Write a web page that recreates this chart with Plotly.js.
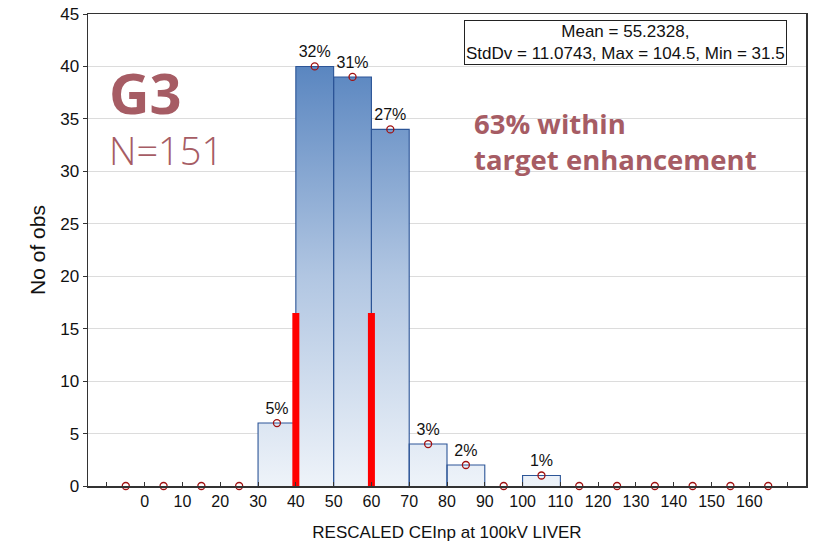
<!DOCTYPE html>
<html>
<head>
<meta charset="utf-8">
<script src="https://cdn.plot.ly/plotly-3.0.1.min.js"></script>
<style>html,body{margin:0;padding:0;background:#fff;} #chart{width:820px;height:542px;}</style>
</head>
<body>
<div id="chart"></div>
<script>
// Bin midpoints (bin width 10) and observed counts
const binMid = [-5, 5, 15, 25, 35, 45, 55, 65, 75, 85, 95, 105, 115, 125, 135, 145, 155, 165];
const counts = [0, 0, 0, 0, 6, 40, 39, 34, 4, 2, 0, 1, 0, 0, 0, 0, 0, 0];
const pctLabels = ['', '', '', '', '5%', '32%', '31%', '27%', '3%', '2%', '', '1%', '', '', '', '', '', ''];
const binWidth = 10;
const targetBounds = [40, 60];
const targetLineTop = 16.5;
const tickVals = [-10, 0, 10, 20, 30, 40, 50, 60, 70, 80, 90, 100, 110, 120, 130, 140, 150, 160, 170];
const tickText = ['', '0', '10', '20', '30', '40', '50', '60', '70', '80', '90', '100', '110', '120', '130', '140', '150', '160', ''];
const statsText = 'Mean = 55.2328,<br>StdDv = 11.0743, Max = 104.5, Min = 31.5';

// histogram outline polygon for gradient fill, and per-bin outlines (built from the counts)
const px = [], py = [], ox = [], oy = [];
binMid.forEach((m, i) => {
  const lo = m - binWidth / 2, hi = m + binWidth / 2;
  px.push(lo, lo, hi, hi);
  py.push(0, counts[i], counts[i], 0);
  if (counts[i] > 0) {
    ox.push(lo, lo, hi, hi, null);
    oy.push(0, counts[i], counts[i], 0, null);
  }
});

const traces = [
  {
    type: 'scatter', x: px, y: py, mode: 'lines', fill: 'toself',
    line: {width: 0, color: 'rgba(0,0,0,0)'},
    fillgradient: {type: 'vertical', start: 0, stop: 40,
      colorscale: [[0, '#eef3f9'], [0.5, '#b1c6e2'], [1, '#5a86c0']]},
    hoverinfo: 'skip', showlegend: false
  },
  {
    type: 'scatter', x: ox, y: oy, mode: 'lines', connectgaps: false,
    line: {color: '#2c5597', width: 1.1}, hoverinfo: 'skip', showlegend: false
  }
];
targetBounds.forEach(b => traces.push({
  type: 'scatter', x: [b, b], y: [0, targetLineTop], mode: 'lines',
  line: {color: '#ff0000', width: 7}, showlegend: false
}));
traces.push({
  type: 'scatter', x: binMid, y: counts, mode: 'markers+text',
  text: pctLabels, textposition: 'top center',
  textfont: {family: 'Liberation Sans, Arial, sans-serif', size: 16, color: '#111'},
  marker: {symbol: 'circle-open', size: 7, color: '#a01010', line: {width: 1.3, color: '#a01010'}},
  cliponaxis: false, showlegend: false
});

const layout = {
  width: 820, height: 542,
  margin: {l: 88, r: 14, t: 14, b: 56},
  paper_bgcolor: '#fff', plot_bgcolor: '#fff',
  font: {family: 'Liberation Sans, Arial, sans-serif', color: '#111'},
  xaxis: {
    range: [-15, 175], tickvals: tickVals, ticktext: tickText,
    ticks: 'inside', ticklen: 4, tickcolor: '#333', tickfont: {size: 16},
    showgrid: false, zeroline: false,
    showline: true, linecolor: '#333', linewidth: 1.5, mirror: true,
    title: {text: 'RESCALED CEInp at 100kV LIVER', font: {size: 17}, standoff: 19}
  },
  yaxis: {
    range: [0, 45], tickvals: [0, 5, 10, 15, 20, 25, 30, 35, 40, 45],
    ticks: 'outside', ticklen: 4, tickcolor: '#333', tickfont: {size: 17},
    showgrid: true, gridcolor: '#dcdcdc', gridwidth: 1, zeroline: false,
    showline: true, linecolor: '#333', linewidth: 1.5, mirror: true,
    title: {text: 'No of obs', font: {size: 21}, standoff: 9}
  },
  shapes: [
    {type: 'rect', xref: 'paper', yref: 'paper', x0: 0.002, x1: 0.229, y0: 0.645, y1: 0.88,
     fillcolor: '#fff', line: {width: 0}, layer: 'between'}
  ],
  annotations: [
    {xref: 'paper', yref: 'paper', x: 0.748, y: 0.988, xanchor: 'center', yanchor: 'top',
     text: statsText, showarrow: false, align: 'center',
     font: {size: 17, color: '#111'}, bgcolor: '#fff', bordercolor: '#222', borderwidth: 1, borderpad: 1},
    {xref: 'paper', yref: 'paper', x: 0.027, y: 0.92, xanchor: 'left', yanchor: 'top',
     text: '<b>G3</b>', showarrow: false, font: {family: 'Open Sans, Lato, sans-serif', size: 56, color: '#a65c64', weight: 800}},
    {xref: 'paper', yref: 'paper', x: 0.027, y: 0.772, xanchor: 'left', yanchor: 'top',
     text: 'N=151', showarrow: false, font: {family: 'Open Sans, Lato, sans-serif', size: 38, color: '#a65c64', weight: 300}},
    {xref: 'paper', yref: 'paper', x: 0.535, y: 0.812, xanchor: 'left', yanchor: 'top',
     text: '<b>63% within<br>target enhancement</b>', showarrow: false, align: 'left',
     font: {family: 'Open Sans, Lato, sans-serif', size: 27.5, color: '#a65c64'}}
  ]
};

Plotly.newPlot('chart', traces, layout, {displayModeBar: false, staticPlot: true});
</script>
</body>
</html>
